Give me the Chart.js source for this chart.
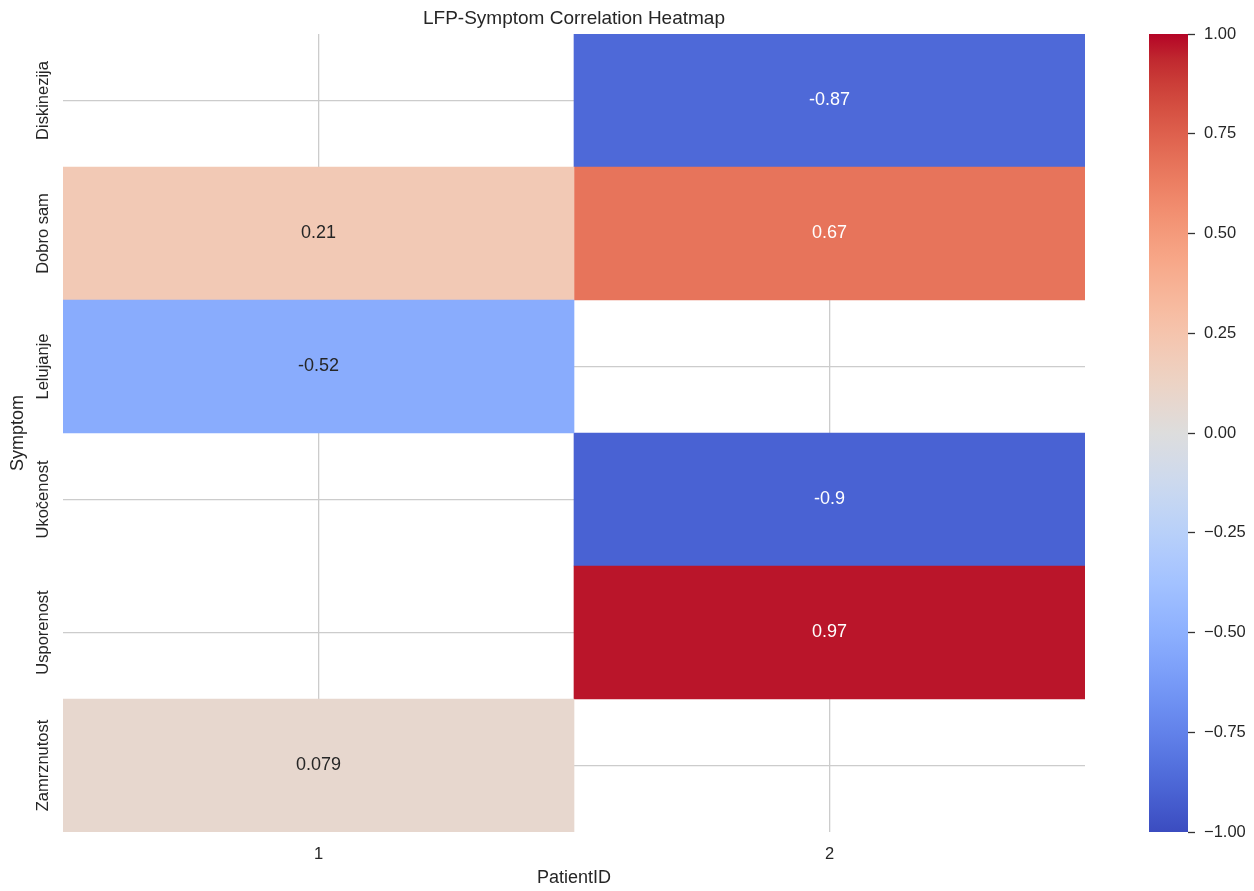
<!DOCTYPE html>
<html>
<head>
<meta charset="utf-8">
<script src="https://cdn.jsdelivr.net/npm/chart.js@4"></script>
<style>
  body { margin: 0; background: #fff; }
  #wrap { position: relative; width: 1254px; height: 891px; }
  #wrap canvas { position: absolute; left: 0; top: 0; }
</style>
</head>
<body>
<div id="wrap">
  <canvas id="heat" width="1254" height="891"></canvas>
  <canvas id="bar" width="1254" height="891"></canvas>
</div>
<script>
const patients = ['1', '2'];
const symptoms = ['Diskinezija', 'Dobro sam', 'Lelujanje', 'Ukočenost', 'Usporenost', 'Zamrznutost'];
// correlation per symptom, null where the patient has no data
const patient1 = [null, 0.21, -0.52, null, null, 0.079];
const patient2 = [-0.87, 0.67, null, -0.9, 0.97, null];
const colorTicks = [-1, -0.75, -0.5, -0.25, 0, 0.25, 0.5, 0.75, 1];

const FONT = "'Liberation Sans', Arial, sans-serif";
const INK = '#262626';

// coolwarm lookup (33 stops)
const cw = [
  [59,76,192],[68,90,204],[77,104,215],[87,117,225],[98,130,234],[108,142,241],
  [119,154,247],[130,165,251],[141,176,254],[152,185,255],[163,194,255],[174,201,253],
  [184,208,249],[194,213,244],[204,217,238],[213,219,230],[221,221,221],[229,216,209],
  [236,211,197],[241,204,185],[245,196,173],[247,187,160],[247,177,148],[247,166,135],
  [244,154,123],[241,141,111],[236,127,99],[229,112,88],[222,96,77],[213,80,66],
  [203,62,56],[192,40,47],[180,4,38]
];

function coolwarm(v) {
  let t = (v + 1) / 2;
  t = Math.max(0, Math.min(1, t)) * (cw.length - 1);
  const i = Math.min(Math.floor(t), cw.length - 2);
  const f = t - i;
  const c = cw[i].map((a, k) => Math.round(a + (cw[i + 1][k] - a) * f));
  return c;
}

function rgb(c) { return 'rgb(' + c.join(',') + ')'; }

// same rule seaborn uses to pick annotation colour
function textColor(c) {
  const lin = c.map((x) => {
    x /= 255;
    return x <= 0.03928 ? x / 12.92 : Math.pow((x + 0.055) / 1.055, 2.4);
  });
  const lum = 0.2126 * lin[0] + 0.7152 * lin[1] + 0.0722 * lin[2];
  return lum > 0.408 ? INK : '#ffffff';
}

// one dataset per patient column, each cell a floating bar across the column
function column(values, idx) {
  return {
    data: values.map((v) => v === null ? null : [idx + 0.5, idx + 1.5]),
    values: values,
    backgroundColor: values.map((v) => v === null ? 'rgba(0,0,0,0)' : rgb(coolwarm(v))),
    borderWidth: 0,
    barPercentage: 1,
    categoryPercentage: 1,
    grouped: false,
  };
}

const annotate = {
  id: 'annotate',
  afterDatasetsDraw(chart) {
    const ctx = chart.ctx;
    ctx.save();
    ctx.font = '18px ' + FONT;
    ctx.textAlign = 'center';
    ctx.textBaseline = 'middle';
    chart.data.datasets.forEach((ds, di) => {
      chart.getDatasetMeta(di).data.forEach((el, i) => {
        const v = ds.values[i];
        if (v === null) return;
        const p = el.getCenterPoint();
        ctx.fillStyle = textColor(coolwarm(v));
        ctx.fillText(String(v), p.x, p.y);
      });
    });
    ctx.restore();
  }
};

function drawHeatmap() {
  new Chart(document.getElementById('heat'), {
    type: 'bar',
    data: {
      labels: symptoms,
      datasets: [column(patient1, 0), column(patient2, 1)],
    },
    options: {
      indexAxis: 'y',
      responsive: false,
      animation: false,
      layout: { padding: { left: 0, right: 169, top: 0, bottom: 0 } },
      plugins: {
        legend: { display: false },
        tooltip: { enabled: false },
        title: {
          display: true,
          text: 'LFP-Symptom Correlation Heatmap',
          fullSize: false,
          color: INK,
          font: { family: FONT, size: 19, weight: 'normal' },
          padding: { top: 7, bottom: 4.2 },
        },
      },
      scales: {
        x: {
          type: 'linear',
          min: 0.5,
          max: 2.5,
          afterBuildTicks: (axis) => { axis.ticks = patients.map((p, i) => ({ value: i + 1 })); },
          ticks: {
            callback: (v) => patients[v - 1],
            color: INK,
            font: { family: FONT, size: 16.5 },
            padding: 13,
          },
          grid: { color: '#cccccc', lineWidth: 1.3, drawTicks: false },
          border: { display: false },
          title: {
            display: true,
            text: 'PatientID',
            color: INK,
            font: { family: FONT, size: 18 },
            padding: { top: 0, bottom: 2 },
          },
          afterFit: (axis) => { axis.height = 59; },
        },
        y: {
          type: 'category',
          ticks: {
            minRotation: 90,
            maxRotation: 90,
            autoSkip: false,
            crossAlign: 'center',
            color: INK,
            font: { family: FONT, size: 16.5 },
            padding: -26,
          },
          grid: { color: '#cccccc', lineWidth: 1.3, drawTicks: false, offset: false },
          border: { display: false },
          title: {
            display: true,
            text: 'Symptom',
            color: INK,
            font: { family: FONT, size: 18 },
            padding: { top: 7 },
          },
          afterFit: (axis) => { axis.width = 63; },
        },
      },
    },
    plugins: [annotate],
  });
}

function drawColorbar() {
  new Chart(document.getElementById('bar'), {
    type: 'bar',
    data: {
      labels: [''],
      datasets: [{
        data: [[colorTicks[0], colorTicks[colorTicks.length - 1]]],
        barPercentage: 1,
        categoryPercentage: 1,
        borderWidth: 0,
        backgroundColor: (context) => {
          const area = context.chart.chartArea;
          if (!area) return 'rgba(0,0,0,0)';
          const g = context.chart.ctx.createLinearGradient(0, area.bottom, 0, area.top);
          cw.forEach((c, i) => g.addColorStop(i / (cw.length - 1), rgb(c)));
          return g;
        },
      }],
    },
    options: {
      responsive: false,
      animation: false,
      layout: { padding: { left: 1149, right: 6, top: 34, bottom: 59 } },
      plugins: { legend: { display: false }, tooltip: { enabled: false } },
      scales: {
        x: { display: false },
        y: {
          position: 'right',
          min: -1,
          max: 1,
          afterBuildTicks: (axis) => { axis.ticks = colorTicks.map((v) => ({ value: v })); },
          ticks: {
            callback: (v) => v.toFixed(2).replace('-', '\u2212'),
            color: INK,
            font: { family: FONT, size: 16.5 },
            padding: 9,
          },
          grid: { drawOnChartArea: false, drawTicks: true, tickLength: 7, tickColor: '#333333', tickWidth: 1.3 },
          border: { display: false },
          afterFit: (axis) => { axis.width = 60; },
        },
      },
    },
  });
}

document.addEventListener('DOMContentLoaded', () => {
  drawHeatmap();
  drawColorbar();
});
</script>
</body>
</html>
